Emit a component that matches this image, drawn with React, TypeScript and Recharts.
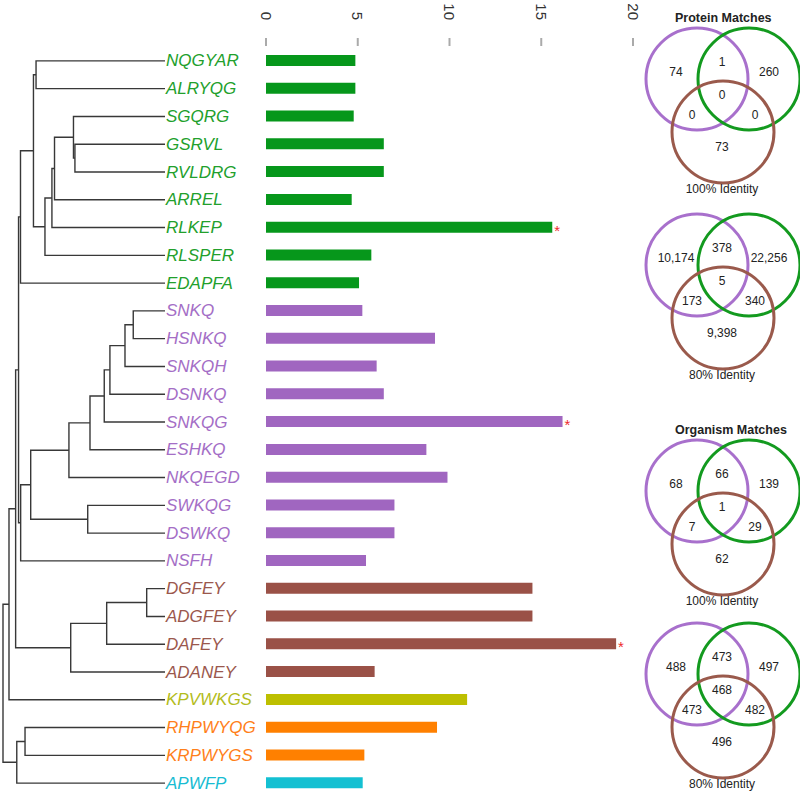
import React from 'react';
import * as RC from 'recharts';

const { BarChart, Bar, XAxis, YAxis, Cell, LabelList, Customized } = RC as any;
const usePlotAreaSafe: () => any = (RC as any).usePlotArea ?? (() => undefined);

// ---------- data ----------
const peptides = [
  'NQGYAR', 'ALRYQG', 'SGQRG', 'GSRVL', 'RVLDRG', 'ARREL', 'RLKEP', 'RLSPER', 'EDAPFA',
  'SNKQ', 'HSNKQ', 'SNKQH', 'DSNKQ', 'SNKQG', 'ESHKQ', 'NKQEGD', 'SWKQG', 'DSWKQ', 'NSFH',
  'DGFEY', 'ADGFEY', 'DAFEY', 'ADANEY', 'KPVWKGS', 'RHPWYQG', 'KRPWYGS', 'APWFP',
];
const values = [
  4.87, 4.87, 4.78, 6.42, 6.42, 4.67, 15.6, 5.74, 5.07,
  5.25, 9.21, 6.03, 6.42, 16.16, 8.74, 9.89, 7.0, 7.0, 5.45,
  14.52, 14.52, 19.08, 5.92, 10.96, 9.32, 5.36, 5.27,
];
const clusters = [
  'A', 'A', 'A', 'A', 'A', 'A', 'A', 'A', 'A',
  'B', 'B', 'B', 'B', 'B', 'B', 'B', 'B', 'B', 'B',
  'C', 'C', 'C', 'C', 'D', 'E', 'E', 'F',
];
const starred = ['RLKEP', 'SNKQG', 'DAFEY'];
const xTicks = [0, 5, 10, 15, 20];

// dendrogram merges: [node, child1, child2, height (root = 1)]
const merges: [string, string, string, number][] = [
  ['a', 'GSRVL', 'RVLDRG', 0.556],
  ['a2', 'SGQRG', 'a', 0.565],
  ['b', 'a2', 'ARREL', 0.682],
  ['c', 'b', 'RLKEP', 0.698],
  ['d', 'c', 'RLSPER', 0.741],
  ['g1', 'NQGYAR', 'ALRYQG', 0.796],
  ['e', 'g1', 'd', 0.812],
  ['f', 'e', 'EDAPFA', 0.892],
  ['p1', 'SNKQ', 'HSNKQ', 0.196],
  ['p2', 'p1', 'SNKQH', 0.247],
  ['p3', 'p2', 'DSNKQ', 0.34],
  ['p4', 'p3', 'SNKQG', 0.375],
  ['p5', 'p4', 'ESHKQ', 0.463],
  ['p6', 'p5', 'NKQEGD', 0.593],
  ['sw', 'SWKQG', 'DSWKQ', 0.477],
  ['p7', 'p6', 'sw', 0.829],
  ['p8', 'p7', 'NSFH', 0.891],
  ['g', 'f', 'p8', 0.904],
  ['b1', 'DGFEY', 'ADGFEY', 0.113],
  ['b2', 'b1', 'DAFEY', 0.36],
  ['b3', 'b2', 'ADANEY', 0.582],
  ['h', 'g', 'b3', 0.922],
  ['i', 'h', 'KPVWKGS', 0.963],
  ['o1', 'RHPWYQG', 'KRPWYGS', 0.864],
  ['o2', 'o1', 'APWFP', 0.915],
  ['root', 'i', 'o2', 1.0],
];

// Venn counts, order: purple only, purple∩green, green only, all three, purple∩brown, green∩brown, brown only
const vennTitles = ['Protein Matches', '', 'Organism Matches', ''];
const vennCaptions = ['100% Identity', '80% Identity', '100% Identity', '80% Identity'];
const proteinMatches100 = [74, 1, 260, 0, 0, 0, 73];
const proteinMatches80 = [10174, 378, 22256, 5, 173, 340, 9398];
const organismMatches100 = [68, 66, 139, 1, 7, 29, 62];
const organismMatches80 = [488, 473, 497, 468, 473, 482, 496];
const vennCounts = [proteinMatches100, proteinMatches80, organismMatches100, organismMatches80];

// ---------- styles ----------
const FONT = '"Liberation Sans", Arial, sans-serif';
const barColors: Record<string, string> = {
  A: '#06971b', B: '#a066c0', C: '#9a5147', D: '#bdbf00', E: '#ff8000', F: '#14c0d2',
};
const textColors: Record<string, string> = {
  A: '#22a02c', B: '#a46ec6', C: '#9b584d', D: '#b3bc1c', E: '#ff7f1a', F: '#18bcd2',
};
const VENN_COLORS = { p: '#a870cc', g: '#139a1f', b: '#9a5a4c' };
const VENN_Y = [79, 265, 491, 674];
const LEAF_X = 165;
const DEND_W = 162;

const data = peptides.map((name, i) => ({
  name,
  value: values[i],
  cluster: clusters[i],
  star: starred.includes(name),
}));

const XTick = (p: any) => {
  const x = p.x;
  return (
    <g>
      <line x1={x} x2={x} y1={38} y2={46} stroke="#aaaaaa" strokeWidth={2} />
      <text
        x={x}
        y={20}
        transform={`rotate(90 ${x} 20)`}
        textAnchor="end"
        dominantBaseline="central"
        fontFamily={FONT}
        fontSize={15}
        fill="#333"
      >
        {p.payload.value}
      </text>
    </g>
  );
};

const StarLabel = (p: any) => {
  if (!p.value) return null;
  return (
    <text
      x={p.x + p.width + 2}
      y={p.y + p.height / 2 + 8.5}
      fill="#ee2a2a"
      fontSize={15}
      fontFamily={FONT}
    >
      *
    </text>
  );
};

function Dendrogram() {
  const pa = usePlotAreaSafe();
  const top = pa?.y ?? 47;
  const h = pa?.height ?? 750;
  const step = h / peptides.length;
  const pos: Record<string, { x: number; y: number }> = {};
  peptides.forEach((n, i) => {
    pos[n] = { x: LEAF_X, y: top + (i + 0.5) * step };
  });
  const lines: any[] = [];
  merges.forEach(([id, c1, c2, ht]) => {
    const a = pos[c1];
    const b = pos[c2];
    const x = LEAF_X - ht * DEND_W;
    pos[id] = { x, y: (a.y + b.y) / 2 };
    lines.push(
      <path
        key={id}
        d={`M${a.x},${a.y}H${x}V${b.y}H${b.x}`}
        fill="none"
        stroke="#383838"
        strokeWidth={1.4}
      />,
    );
  });
  return (
    <g>
      {lines}
      {peptides.map((n, i) => (
        <text
          key={n}
          x={LEAF_X + 1}
          y={pos[n].y}
          dominantBaseline="central"
          fontFamily={FONT}
          fontStyle="italic"
          fontSize={17}
          fill={textColors[clusters[i]]}
        >
          {n}
        </text>
      ))}
    </g>
  );
}

function Venn({ k }: { k: number }) {
  const cy = VENN_Y[k];
  const r = 51;
  const counts = vennCounts[k].map((v) => v.toLocaleString('en-US'));
  const spots = [
    [676, cy - 7], [722, cy - 17], [769, cy - 7], [722, cy + 16],
    [692, cy + 36], [755, cy + 36], [722, cy + 68],
  ];
  return (
    <g fontFamily={FONT}>
      {vennTitles[k] ? (
        <text x={675} y={cy - 61} fontSize={12.5} fontWeight="bold" fill="#222" dominantBaseline="central">
          {vennTitles[k]}
        </text>
      ) : null}
      <circle cx={697} cy={cy} r={r} fill="none" stroke={VENN_COLORS.p} strokeWidth={3} />
      <circle cx={749} cy={cy} r={r} fill="none" stroke={VENN_COLORS.g} strokeWidth={3} />
      <circle cx={723} cy={cy + 53} r={r} fill="none" stroke={VENN_COLORS.b} strokeWidth={3} />
      {counts.map((t, i) => (
        <text key={i} x={spots[i][0]} y={spots[i][1]} fontSize={12} fill="#222" textAnchor="middle" dominantBaseline="central">
          {t}
        </text>
      ))}
      <text x={722} y={cy + 110} fontSize={12} fill="#222" textAnchor="middle" dominantBaseline="central">
        {vennCaptions[k]}
      </text>
    </g>
  );
}

function Overlay() {
  return (
    <g>
      <Dendrogram />
      {vennCounts.map((_, k) => (
        <Venn key={k} k={k} />
      ))}
    </g>
  );
}

export default function App() {
  return (
    <div style={{ position: 'absolute', left: 0, top: 0, width: 800, height: 793, overflow: 'hidden', background: '#fff' }}>
      <BarChart
        width={800}
        height={800}
        data={data}
        layout="vertical"
        margin={{ top: 0, right: 167, bottom: 3, left: 266 }}
      >
        <XAxis
          type="number"
          orientation="top"
          domain={[0, 20]}
          ticks={xTicks}
          height={47}
          axisLine={false}
          tickLine={false}
          tick={<XTick />}
          interval={0}
        />
        <YAxis type="category" dataKey="name" hide />
        <Bar dataKey="value" barSize={11} isAnimationActive={false}>
          {data.map((d, i) => (
            <Cell key={i} fill={barColors[d.cluster]} />
          ))}
          <LabelList dataKey="star" content={<StarLabel />} />
        </Bar>
        <Customized component={<Overlay />} />
      </BarChart>
    </div>
  );
}
